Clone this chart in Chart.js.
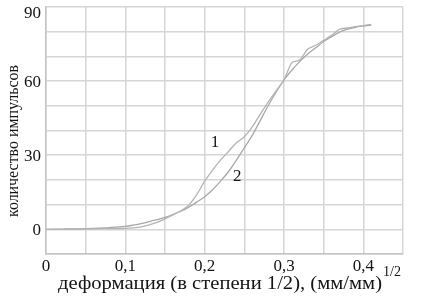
<!DOCTYPE html>
<html>
<head>
<meta charset="utf-8">
<script src="https://cdn.jsdelivr.net/npm/chart.js@4/dist/chart.umd.min.js"></script>
<style>
  html, body { margin: 0; padding: 0; background: #fff; }
  #wrap { position: relative; width: 441px; height: 297px; }
</style>
</head>
<body>
<div id="wrap"><canvas id="c" width="441" height="297"></canvas></div>
<script>
// x values (strain^1/2)
const strain = [0, 0.02, 0.04, 0.06, 0.08, 0.10, 0.11, 0.12, 0.13, 0.14, 0.15, 0.16, 0.17, 0.18, 0.19, 0.20,
  0.21, 0.22, 0.23, 0.24, 0.25, 0.26, 0.27, 0.28, 0.29, 0.30, 0.31, 0.32, 0.33, 0.34, 0.35, 0.36, 0.37, 0.38, 0.39, 0.40, 0.41];
// curve 1
const counts1 = [0, 0, 0.1, 0.2, 0.3, 0.4, 0.6, 1.0, 1.8, 2.8, 4.2, 5.8, 7.5, 9.8, 14.0, 19.5,
  24, 28, 31.5, 35, 37.5, 41.5, 46.5, 51.5, 56, 60.5, 67.5, 68.5, 73, 74.5, 76.5, 78.5, 81, 81.5, 82, 82.5, 83];
// curve 2
const counts2 = [0, 0.1, 0.2, 0.4, 0.7, 1.2, 1.7, 2.3, 3.1, 3.9, 4.8, 6.0, 7.3, 9.0, 11.0, 13.2,
  16, 19.5, 23.3, 28, 33, 38, 44, 50, 55.5, 60.5, 64.5, 68, 71, 73.5, 76, 78, 79.8, 81, 81.8, 82.3, 82.7];
const curveLabels = ['1', '2'];
const curveLabelPos = [[0.213, 35.2], [0.241, 21.5]];
const xTickValues = [0, 0.1, 0.2, 0.3, 0.4];
const xTickLabels = ['0', '0,1', '0,2', '0,3', '0,4'];
const yTickValues = [0, 30, 60, 90];
const yTickLabels = ['0', '30', '60', '90'];
const xTitle = 'деформация (в степени 1/2), (мм/мм)';
const xTitleSup = '1/2';
const yTitle = 'количество импульсов';

const toPts = (ys) => strain.map((x, i) => ({ x: x, y: ys[i] }));
const FONT = '"Liberation Serif", "Times New Roman", serif';
const TXT = '#141414';

function fitText(ctx, text, x, y, width) {
  const w = ctx.measureText(text).width;
  ctx.save();
  ctx.translate(x, y);
  ctx.scale(width / w, 1);
  ctx.fillText(text, 0, 0);
  ctx.restore();
}

const textPlugin = {
  id: 'texts',
  afterDraw(chart) {
    const ctx = chart.ctx;
    const xs = chart.scales.x, ys = chart.scales.y;
    ctx.save();
    ctx.fillStyle = TXT;
    ctx.font = '17px ' + FONT;
    // x tick labels
    ctx.textAlign = 'center';
    ctx.textBaseline = 'alphabetic';
    xTickValues.forEach((v, i) => {
      ctx.fillText(xTickLabels[i], xs.getPixelForValue(v), 271);
    });
    // y tick labels
    ctx.textAlign = 'right';
    ctx.textBaseline = 'middle';
    yTickValues.forEach((v, i) => {
      const py = Math.max(ys.getPixelForValue(v) + 1, 14);
      ctx.fillText(yTickLabels[i], 41, py);
    });
    // curve labels
    ctx.textAlign = 'center';
    curveLabels.forEach((t, i) => {
      ctx.fillText(t, xs.getPixelForValue(curveLabelPos[i][0]), ys.getPixelForValue(curveLabelPos[i][1]));
    });
    // x title with superscript
    ctx.textBaseline = 'alphabetic';
    ctx.textAlign = 'left';
    ctx.font = '18px ' + FONT;
    fitText(ctx, xTitle, 58, 289, 324);
    ctx.font = '14px ' + FONT;
    fitText(ctx, xTitleSup, 383, 276, 18);
    // y title rotated
    ctx.font = '16px ' + FONT;
    ctx.translate(18, 217);
    ctx.rotate(-Math.PI / 2);
    fitText(ctx, yTitle, 0, 0, 152);
    ctx.restore();
  }
};

new Chart(document.getElementById('c'), {
  type: 'line',
  data: {
    datasets: [
      { label: '1', data: toPts(counts1), borderColor: '#b4b4b4', borderWidth: 1.3, pointRadius: 0, tension: 0.25, fill: false },
      { label: '2', data: toPts(counts2), borderColor: '#a8a8a8', borderWidth: 1.3, pointRadius: 0, cubicInterpolationMode: 'monotone', fill: false }
    ]
  },
  options: {
    responsive: false,
    animation: false,
    devicePixelRatio: 1,
    layout: { padding: { top: 7, right: 38, left: 0, bottom: 0 } },
    plugins: { legend: { display: false }, tooltip: { enabled: false }, title: { display: false } },
    scales: {
      x: {
        type: 'linear', min: 0, max: 0.45,
        ticks: { display: false, stepSize: 0.05 },
        grid: { color: '#d6d6d6', lineWidth: 1.5, drawTicks: false },
        border: { color: '#c4c4c4', width: 1.5 },
        afterFit(s) { s.height = 43; }
      },
      y: {
        min: -10, max: 90,
        ticks: { display: false, stepSize: 10 },
        grid: { color: '#d6d6d6', lineWidth: 1.5, drawTicks: false },
        border: { color: '#c4c4c4', width: 1.5 },
        afterFit(s) { s.width = 46; }
      }
    }
  },
  plugins: [textPlugin]
});
</script>
</body>
</html>
